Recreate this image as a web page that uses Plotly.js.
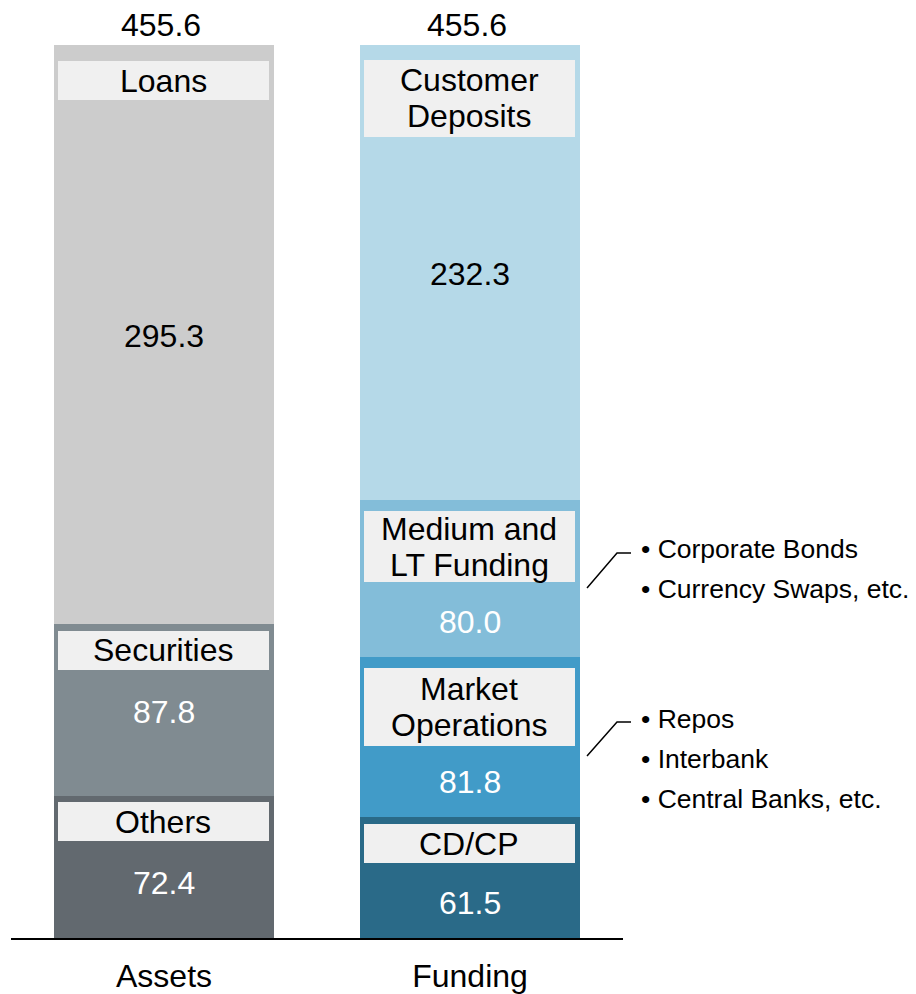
<!DOCTYPE html>
<html>
<head>
<meta charset="utf-8">
<script src="https://cdn.plot.ly/plotly-3.0.1.min.js"></script>
<style>html,body{margin:0;padding:0;background:#fff;}</style>
</head>
<body>
<div id="chart" style="width:916px;height:994px;"></div>
<script>
// ---- data ----
const categories = ['Assets', 'Funding'];
const totals = [455.6, 455.6];
const assetNames = ['Others', 'Securities', 'Loans'];
const assetValues = [72.4, 87.8, 295.3];
const fundingNames = ['CD/CP', 'Market<br>Operations', 'Medium and<br>LT Funding', 'Customer<br>Deposits'];
const fundingValues = [61.5, 81.8, 80.0, 232.3];
const mediumDetails = ['Corporate Bonds', 'Currency Swaps, etc.'];
const marketDetails = ['Repos', 'Interbank', 'Central Banks, etc.'];

// ---- style ----
const FONT = '"Liberation Sans", Arial, sans-serif';
const FS = 32;
const LINE_GAP = 36;
const assetColors = ['#62696f', '#808b91', '#cccccc'];
const fundingColors = ['#2a6a88', '#419bc8', '#83bdd9', '#b5d9e8'];
const assetValueColors = ['#ffffff', '#ffffff', '#000000'];
const fundingValueColors = ['#ffffff', '#ffffff', '#ffffff', '#000000'];
// label box: offset below segment top (px), box height (px)
const assetBox = [[6, 39], [7, 39], [16, 39]];
const fundingBox = [[7, 39], [11, 78], [11, 71], [15, 77]];
// value label vertical shift from segment middle (px)
const assetValShift = [-16, -2, -1];
const fundingValShift = [-25, -45, -43, -1];

const W = 916, H = 994;
const M = {l: 11, r: 293, t: 5, b: 56};
const yMax = 476.0;
const plotW = W - M.l - M.r, plotH = H - M.t - M.b;
const px2paperX = px => (px - M.l) / plotW;
const px2paperY = py => (H - M.b - py) / plotH;

const traces = [];
const annotations = [];

function addStack(cat, names, values, colors, valColors, boxes, shifts) {
  let base = 0;
  names.forEach((name, i) => {
    const v = values[i];
    traces.push({
      type: 'bar', x: [cat], y: [v], name: name.replace('<br>', ' '),
      marker: {color: colors[i], line: {width: 0}},
      hoverinfo: 'skip', showlegend: false
    });
    const top = base + v;
    const off = boxes[i][0], h = boxes[i][1];
    // background box
    annotations.push({
      x: cat, y: top, xref: 'x', yref: 'y', yanchor: 'top', yshift: -off, xshift: -1,
      text: ' ', showarrow: false, width: 211, height: h,
      bgcolor: '#f0f0f0', borderpad: 0, borderwidth: 0,
      font: {family: FONT, size: FS, color: '#000'}
    });
    // label lines
    const lines = name.split('<br>');
    const center = off + h / 2;
    lines.forEach((ln, k) => {
      const c = center + (k - (lines.length - 1) / 2) * LINE_GAP;
      annotations.push({
        x: cat, y: top, xref: 'x', yref: 'y', yanchor: 'middle', yshift: -c, xshift: -1,
        text: ln, showarrow: false,
        font: {family: FONT, size: FS, color: '#000'}
      });
    });
    annotations.push({
      x: cat, y: base + v / 2, xref: 'x', yref: 'y', yanchor: 'middle', yshift: shifts[i],
      text: v.toFixed(1), showarrow: false,
      font: {family: FONT, size: FS, color: valColors[i]}
    });
    base = top;
  });
}

addStack(categories[0], assetNames, assetValues, assetColors, assetValueColors, assetBox, assetValShift);
addStack(categories[1], fundingNames, fundingValues, fundingColors, fundingValueColors, fundingBox, fundingValShift);

categories.forEach((c, i) => {
  annotations.push({
    x: c, y: totals[i], xref: 'x', yref: 'y', yanchor: 'bottom', yshift: 0, xshift: -3,
    text: totals[i].toFixed(1), showarrow: false,
    font: {family: FONT, size: FS, color: '#000'}
  });
});

function addDetails(lines, firstY) {
  lines.forEach((t, i) => {
    annotations.push({
      xref: 'paper', yref: 'paper', x: px2paperX(639), y: px2paperY(firstY + i * 40),
      xanchor: 'left', yanchor: 'middle', text: '\u2022 ' + t, showarrow: false,
      font: {family: FONT, size: 26.5, color: '#000'}
    });
  });
}
addDetails(mediumDetails, 549);
addDetails(marketDetails, 719);

function connector(yLow, yHigh) {
  const p = (x, y) => px2paperX(x).toFixed(4) + ',' + px2paperY(y).toFixed(4);
  return {
    type: 'path', xref: 'paper', yref: 'paper',
    path: 'M' + p(587, yLow) + ' L' + p(617, yHigh) + ' L' + p(631, yHigh),
    line: {color: '#000', width: 1.5}
  };
}

const layout = {
  width: W, height: H,
  margin: M,
  paper_bgcolor: '#fff', plot_bgcolor: '#fff',
  barmode: 'stack', bargap: 0.284,
  showlegend: false,
  font: {family: FONT, color: '#000'},
  xaxis: {
    type: 'category', range: [-0.5, 1.5], showline: true, linecolor: '#000', linewidth: 2,
    ticks: '', showgrid: false, zeroline: false,
    tickfont: {family: FONT, size: FS, color: '#000'}, ticklabelstandoff: 9
  },
  yaxis: {range: [0, yMax], visible: false, showgrid: false, zeroline: false},
  annotations: annotations,
  shapes: [connector(588, 553), connector(756, 722)]
};

Plotly.newPlot('chart', traces, layout, {displayModeBar: false, staticPlot: true});
</script>
</body>
</html>
